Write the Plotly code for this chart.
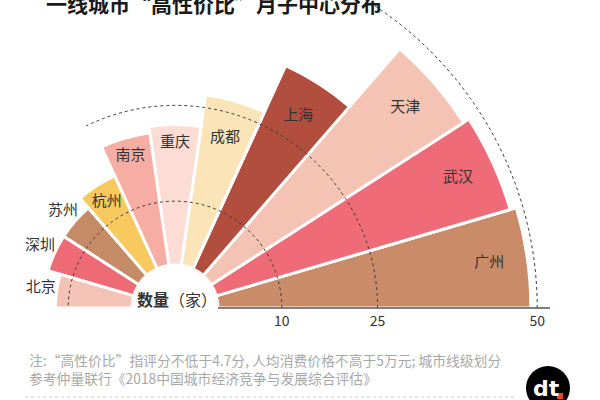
import numpy as np
import plotly.graph_objects as go

# ---------------- data ----------------
cities = ["广州", "武汉", "天津", "上海", "成都", "重庆", "南京", "杭州", "苏州", "深圳", "北京"]
counts = [49, 48, 47, 35, 27, 22, 21, 16, 14, 14, 12]
colors = ["#C98B68", "#EF6B77", "#F4C3B4", "#B24E3E", "#FBE4B8", "#FCDCD5",
          "#F6ADA3", "#F7C95E", "#C58A66", "#EE6A74", "#F5C3B5"]
radial_ticks = [10, 25, 50]
title_text = "一线城市“高性价比”月子中心分布"
note_lines = ["注:“高性价比”指评分不低于4.7分, 人均消费价格不高于5万元; 城市线级划分",
              "参考仲量联行《2018中国城市经济竞争与发展综合评估》"]
center_label = "<b>数量</b>（家）"

# ---------------- layout helpers ----------------
FONT = "Noto Sans CJK SC"
W, H = 800, 480          # figure size
OX, OY = 200, 80         # figure is shifted left/up by this much in the window
CX, CY = 175, 308        # polar centre in window pixels
R_OUT = 375              # outer radius (px)
HOLE_PX = 43


def px(x):
    return (x + OX) / W


def py(y):
    return 1 - (y + OY) / H


n = len(cities)
step = 180.0 / n
theta = [step * (i + 0.5) for i in range(n)]


def label_r(v):
    if v >= 25:
        return v - 6
    if v >= 15:
        return v - 3
    return v + 2.5


fig = go.Figure()
fig.add_trace(go.Barpolar(
    r=counts, theta=theta, width=[step] * n,
    marker=dict(color=colors, line=dict(color="white", width=3)),
    hoverinfo="skip", showlegend=False,
))

# dotted reference arcs at the radial tick values (drawn above the bars)
arc_span = {10: 180, 25: 116, 50: 180}
for t in radial_ticks:
    th = np.linspace(0, arc_span[t], 200)
    fig.add_trace(go.Scatterpolar(
        r=[t] * len(th), theta=th, mode="lines",
        line=dict(color="#3a3a3a", width=1, dash="3px,3px"),
        hoverinfo="skip", showlegend=False,
    ))

fig.add_trace(go.Scatterpolar(
    r=[label_r(v) for v in counts], theta=theta, mode="text", text=cities,
    textfont=dict(family=FONT, size=15, color="#333333"),
    hoverinfo="skip", showlegend=False,
))

R_MAX = 52
fig.update_layout(
    width=W, height=H,
    margin=dict(l=0, r=0, t=0, b=0),
    paper_bgcolor="white", plot_bgcolor="white",
    showlegend=False,
    polar=dict(
        domain=dict(x=[px(CX - R_OUT), px(CX + R_OUT)], y=[py(CY), py(CY - R_OUT)]),
        sector=[0, 180],
        hole=HOLE_PX / R_OUT,
        bgcolor="rgba(0,0,0,0)",
        radialaxis=dict(
            range=[0, R_MAX], angle=0, side="clockwise", layer="above traces",
            tickvals=radial_ticks, ticktext=[str(t) for t in radial_ticks],
            ticks="", showline=True, linecolor="#555555", linewidth=1.5,
            showgrid=False,
            tickfont=dict(family=FONT, size=14, color="#333333"),
        ),
        angularaxis=dict(
            rotation=0, direction="counterclockwise",
            showline=False, showgrid=False, showticklabels=False, ticks="",
        ),
    ),
)

annotations = [
    dict(text=title_text, x=px(44), y=py(3), xanchor="left", yanchor="middle",
         font=dict(family=FONT, size=21, color="#1a1a1a", weight="bold")),
    dict(text=center_label, x=px(177), y=py(299), xanchor="center", yanchor="middle",
         font=dict(family=FONT, size=16, color="#333333")),
    dict(text="<br>".join(note_lines), x=px(27), y=py(368.5), xanchor="left", yanchor="middle",
         align="left",
         font=dict(family=FONT, size=13.8, color="#A8A8A8")),
    dict(text="<b>dt</b>", x=px(546), y=py(388), xanchor="center", yanchor="middle",
         font=dict(family="DejaVu Sans", size=22, color="white")),
]
for a in annotations:
    a.update(xref="paper", yref="paper", showarrow=False)
fig.update_layout(annotations=annotations)

fig.update_layout(shapes=[
    dict(type="line", xref="paper", yref="paper", x0=px(25), x1=px(515), y0=py(397), y1=py(397),
         line=dict(color="#C8C8C8", width=1, dash="dot")),
    dict(type="circle", xref="paper", yref="paper", x0=px(526), x1=px(570), y0=py(410), y1=py(366),
         fillcolor="black", line=dict(color="black", width=0)),
    dict(type="rect", xref="paper", yref="paper", x0=px(557), x1=px(563), y0=py(399), y1=py(393),
         fillcolor="#E8452C", line=dict(width=0)),
])

shift_js = ("var gd=document.getElementById('{plot_id}');"
            "gd.style.position='absolute';gd.style.left='-%dpx';gd.style.top='-%dpx';"
            "document.body.style.margin='0';document.body.style.overflow='hidden';" % (OX, OY))
fig.write_html("out.html", post_script=shift_js)
